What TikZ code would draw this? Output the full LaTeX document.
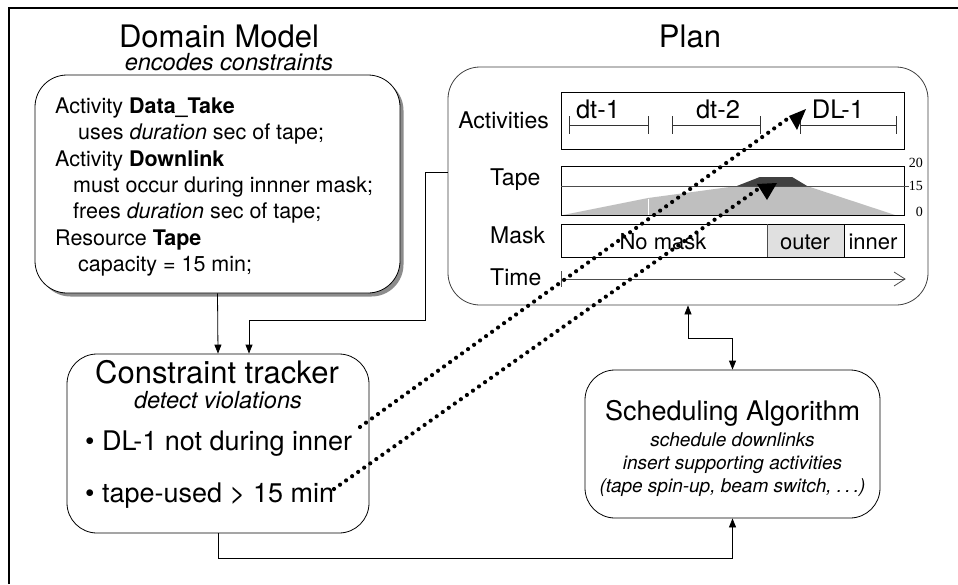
\documentclass[tikz,border=0pt]{standalone}
\usepackage{fontspec}
\setmainfont{TeX Gyre Heros}
\newfontfamily\numfont{Liberation Serif}
\usetikzlibrary{arrows.meta,calc}
\begin{document}
\begin{tikzpicture}[x=1pt,y=-1pt,
  conn/.style={line width=0.8pt},
  arr/.style={conn,-{Triangle[length=9pt,width=7pt]}},
  dblarr/.style={conn,{Triangle[length=9pt,width=7pt]}-{Triangle[length=9pt,width=7pt]}},
  box/.style={draw, rounded corners=32pt, line width=0.8pt, fill=white, inner sep=0pt},
  lab/.style={anchor=base west, inner sep=0pt},
  ttl/.style={anchor=base, inner sep=0pt, font=\fontsize{31}{36}\selectfont},
  sub/.style={anchor=base, inner sep=0pt, font=\fontsize{23.5}{26}\selectfont\itshape},
  body/.style={lab, font=\fontsize{21.5}{26}\selectfont},
  plab/.style={lab, font=\fontsize{23}{26}\selectfont},
  actlab/.style={anchor=base, inner sep=0pt, font=\fontsize{25.5}{28}\selectfont},
  masklab/.style={anchor=base, inner sep=0pt, font=\fontsize{22}{26}\selectfont},
  numlab/.style={anchor=east, inner sep=0pt, font=\numfont\fontsize{14}{16}\selectfont},
  bul/.style={lab, font=\fontsize{27}{30}\selectfont},
  schsub/.style={anchor=base, inner sep=0pt, font=\fontsize{19}{23}\selectfont\itshape},
  dots/.style={line width=4.2pt, line cap=round, dash pattern=on 0pt off 7.4pt},
  tip/.style={fill=black}
]
\useasboundingbox (0,0) rectangle (958,584);
\fill[white] (0,0) rectangle (958,584);
% outer frame (top and left)
\draw[line width=2pt] (9,584) -- (9,7.5) -- (958,7.5);

% ---------- Domain model ----------
\node[ttl] (dmt) at (219,47) {Domain Model};
\node[sub] (dms) at (229,70) {encodes constraints};
\node[box, draw=none, fill=black!45, minimum width=365pt, minimum height=218pt] (dmsh) at (221,187.5) {};
\node[box, minimum width=365pt, minimum height=218pt] (dm) at (217.5,184) {};
\node[body] (d1) at (55,113) {Activity \textbf{Data\_Take}};
\node[body] (d2) at (78,139) {uses \textit{duration} sec of tape;};
\node[body] (d3) at (55,166) {Activity \textbf{Downlink}};
\node[body] (d4) at (73,192) {must occur during innner mask;};
\node[body] (d5) at (73,218) {frees \textit{duration} sec of tape;};
\node[body] (d6) at (55,245) {Resource \textbf{Tape}};
\node[body] (d7) at (78,271) {capacity = 15 min;};

% ---------- Plan ----------
\node[ttl] (plt) at (690,47) {Plan};
\node[box, draw=black!75, minimum width=480pt, minimum height=238pt] (plan) at (688,186) {};
\node[plab, anchor=base east] (lact) at (549,128) {Activities};
\node[plab] (ltape) at (490,185) {Tape};
\node[plab] (lmask) at (490,243) {Mask};
\node[plab] (ltime) at (490,285) {Time};

% activities
\draw[conn] (561,92) rectangle (904,149);
\draw[conn, black!80] (569,125) -- (648,125) (569,116) -- (569,134) (648,116) -- (648,134);
\draw[conn, black!80] (672,125) -- (760,125) (672,116) -- (672,134) (760,116) -- (760,134);
\draw[conn, black!80] (800,125) -- (896,125) (800,116) -- (800,134) (896,116) -- (896,134);
\node[actlab] (a1) at (598,118) {dt-1};
\node[actlab] (a2) at (718,118) {dt-2};
\node[actlab] (a3) at (838,118) {DL-1};

% tape
\fill[black!25] (563,215) -- (648,198) -- (737,186) -- (760,177) -- (792,177) -- (807,186) -- (895,215) -- cycle;
\fill[black!75] (737,186) -- (760,177) -- (792,177) -- (807,186) -- cycle;
\draw[white, line width=0.8pt] (648,198.5) -- (648,215);
\draw[conn] (561,166) rectangle (904,215);
\draw[conn, black!70] (561,186) -- (909,186);
\node[numlab] (n20) at (923,163) {20};
\node[numlab] (n15) at (923,186) {15};
\node[numlab] (n0) at (923,212) {0};

% mask
\fill[black!12] (767,224) rectangle (844,257);
\draw[conn] (561,224) rectangle (904,257);
\draw[conn, black!70] (767,224) -- (767,257);
\draw[conn] (844,224) -- (844,257);
\node[masklab] (m1) at (663,249) {No mask};
\node[masklab] (m2) at (805,249) {outer};
\node[masklab] (m3) at (873,249) {inner};

% time
\draw[conn, black!70] (561,271) -- (561,287) (561,279) -- (905,279);
\draw[conn, black!70] (894,272) -- (905,279) -- (894,286);

% ---------- Constraint tracker ----------
\node[box, rounded corners=30pt, minimum width=302pt, minimum height=179pt] (ct) at (218,443.5) {};
\node[ttl] (ctt) at (217,383) {Constraint tracker};
\node[sub] (cts) at (218,408) {detect violations};
\node[bul] (b1) at (85,450) {\textbullet\ DL-1 not during inner};
\node[bul] (b2) at (85,502) {\textbullet\ tape-used > 15 min};

% ---------- Scheduling ----------
\node[box, rounded corners=30pt, minimum width=295pt, minimum height=148pt] (sch) at (732.5,444) {};
\node[anchor=base, inner sep=0pt, font=\fontsize{27}{30}\selectfont] (scht) at (732.5,420) {Scheduling Algorithm};
\node[schsub] (s1) at (732.5,446) {schedule downlinks};
\node[schsub] (s2) at (732.5,469) {insert supporting activities};
\node[schsub] (s3) at (732.5,492) {(tape spin-up, beam switch, .\,.\,.)};

% ---------- connectors ----------
\draw[arr] (dm.south) -- (ct.north);
\coordinate (c1) at (425,172);
\coordinate (c2) at (425,320);
\coordinate (c3) at (249,320);
\draw[arr] (plan.west |- c1) -- (c1) -- (c2) -- (c3) -- (ct.north -| c3);
\draw[arr] (ct.south) -- ++(0,25) -| (sch.south);
\draw[dblarr] (plan.south) -- ++(0,33) -| (sch.north);

% dotted violation links
\coordinate (v1) at (360,427);
\coordinate (e1) at (790,117);
\coordinate (v2) at (334,489);
\coordinate (e2) at (758,189);
\draw[dots] (v1) -- (e1);
\draw[dots] (v2) -- (e2);
\fill[tip] (789,116) -- (806,109) -- (797,130) -- cycle;
\fill[tip] (757,184) -- (777,183) -- (767,200) -- cycle;
\end{tikzpicture}
\end{document}
